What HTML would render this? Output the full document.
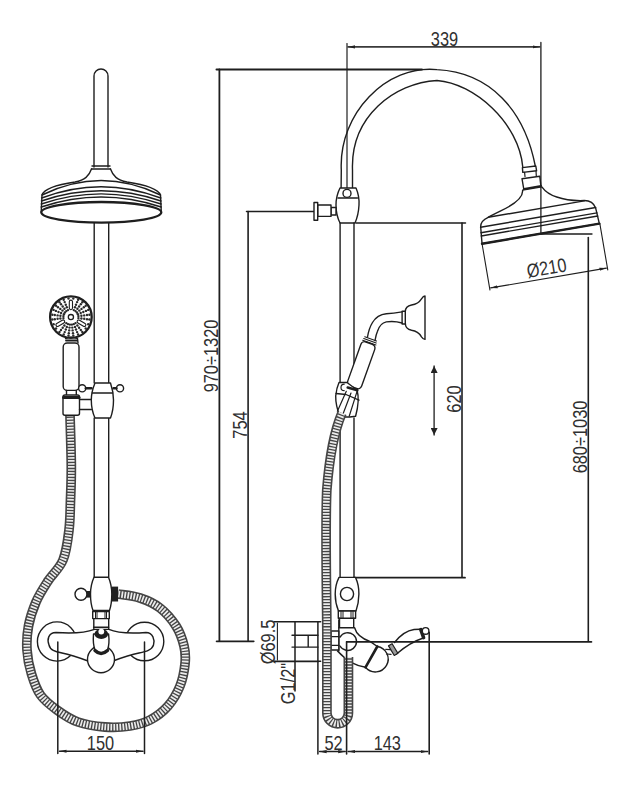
<!DOCTYPE html>
<html><head><meta charset="utf-8">
<style>
html,body{margin:0;padding:0;background:#fff;}
svg{display:block;}
text{font-family:"Liberation Sans",sans-serif;fill:#303030;}
</style></head>
<body>
<svg width="633" height="800" viewBox="0 0 633 800">
<defs>
<marker id="ar" viewBox="0 0 10 10" refX="10" refY="5" markerWidth="7" markerHeight="7" orient="auto-start-reverse" markerUnits="userSpaceOnUse"><path d="M0,2.8 L10,5 L0,7.2 z" fill="#222"/></marker>
<marker id="ar2" viewBox="0 0 10 10" refX="10" refY="5" markerWidth="7" markerHeight="7" orient="auto-start-reverse" markerUnits="userSpaceOnUse"><path d="M0,0 L10,5 L0,10 z" fill="#222"/></marker>
</defs>
<g fill="none" stroke="#1e1e1e" stroke-width="1.4" stroke-linejoin="round" stroke-linecap="round">

<!-- ============ LEFT FIGURE ============ -->
<!-- hose left -->
<path id="hoseL" d="M70,415 C70.2,423.4 71.2,451.4 71.3,465.6 C71.4,479.8 70.9,489.3 70.5,500.0 C70.1,510.7 70.2,520.0 69.0,530.0 C67.8,540.0 66.5,551.5 63.0,560.0 C59.5,568.5 52.5,574.0 48.0,581.0 C43.5,588.0 39.2,594.5 36.0,602.0 C32.8,609.5 30.0,618.0 28.5,626.0 C27.0,634.0 26.5,642.0 27.0,650.0 C27.5,658.0 29.2,666.5 31.5,674.0 C33.8,681.5 36.2,689.0 40.5,695.0 C44.8,701.0 50.8,705.5 57.0,710.0 C63.2,714.5 70.0,719.2 78.0,722.0 C86.0,724.8 96.3,726.3 105.0,727.0 C113.7,727.7 122.5,727.2 130.0,726.0 C137.5,724.8 143.7,723.3 150.0,720.0 C156.3,716.7 163.0,711.7 168.0,706.0 C173.0,700.3 177.2,693.0 180.0,686.0 C182.8,679.0 184.3,670.7 185.0,664.0 C185.7,657.3 185.5,652.3 184.0,646.0 C182.5,639.7 180.0,632.3 176.0,626.0 C172.0,619.7 166.0,612.7 160.0,608.0 C154.0,603.3 147.0,600.3 140.0,598.0 C133.0,595.7 121.7,594.7 118.0,594.0" stroke="#454545" stroke-width="9.8" stroke-linecap="butt"/>
<path d="M70,415 C70.2,423.4 71.2,451.4 71.3,465.6 C71.4,479.8 70.9,489.3 70.5,500.0 C70.1,510.7 70.2,520.0 69.0,530.0 C67.8,540.0 66.5,551.5 63.0,560.0 C59.5,568.5 52.5,574.0 48.0,581.0 C43.5,588.0 39.2,594.5 36.0,602.0 C32.8,609.5 30.0,618.0 28.5,626.0 C27.0,634.0 26.5,642.0 27.0,650.0 C27.5,658.0 29.2,666.5 31.5,674.0 C33.8,681.5 36.2,689.0 40.5,695.0 C44.8,701.0 50.8,705.5 57.0,710.0 C63.2,714.5 70.0,719.2 78.0,722.0 C86.0,724.8 96.3,726.3 105.0,727.0 C113.7,727.7 122.5,727.2 130.0,726.0 C137.5,724.8 143.7,723.3 150.0,720.0 C156.3,716.7 163.0,711.7 168.0,706.0 C173.0,700.3 177.2,693.0 180.0,686.0 C182.8,679.0 184.3,670.7 185.0,664.0 C185.7,657.3 185.5,652.3 184.0,646.0 C182.5,639.7 180.0,632.3 176.0,626.0 C172.0,619.7 166.0,612.7 160.0,608.0 C154.0,603.3 147.0,600.3 140.0,598.0 C133.0,595.7 121.7,594.7 118.0,594.0" stroke="#ececec" stroke-width="6.6" stroke-dasharray="1.7 1.3" stroke-linecap="butt"/>

<!-- top pipe -->
<path d="M94,167 V76 A7,7 0 0 1 108,76 V167"/>
<!-- collar -->
<path d="M92,166 H110 M91.5,169 H110.5"/>
<!-- shower head dome -->
<path d="M91.5,169 C89,176 85,180 75,182 C55,185 44,189 42,195 L41.2,212" fill="#fff"/>
<path d="M110.5,169 C113,176 117,180 127,182 C147,185 158,189 160.5,195 L161.3,212" fill="#fff"/>
<!-- grooves -->
<path d="M42,195 Q101,166 160.5,195"/>
<path d="M41.6,198 Q101,175.4 160.8,198"/>
<path d="M41.4,201 Q101,180.6 161,201"/>
<path d="M41.3,204 Q101,183.8 161.1,204"/>
<path d="M41.2,207 Q101,187 161.2,207"/>
<ellipse cx="101.3" cy="212.3" rx="60" ry="10.3" stroke-width="2.3" fill="#fff"/>
<!-- rail -->
<path d="M94.2,222.6 V383 M108.7,222.6 V383 M94.2,418 V577 M108.7,418 V577"/>

<!-- hand shower head -->
<circle cx="70.9" cy="317.1" r="20.8" stroke-width="2.3" fill="#fff"/>
<g fill="#2a2a2a" stroke="none"><circle cx="73.3" cy="298.6" r="1.2"/><circle cx="73.8" cy="310.1" r="1.2"/><circle cx="75.0" cy="307.3" r="1.2"/><circle cx="76.0" cy="304.7" r="1.2"/><circle cx="77.1" cy="302.1" r="1.2"/><circle cx="78.1" cy="299.8" r="1.2"/><circle cx="75.5" cy="311.1" r="1.2"/><circle cx="77.4" cy="308.7" r="1.2"/><circle cx="79.1" cy="306.5" r="1.2"/><circle cx="80.8" cy="304.2" r="1.2"/><circle cx="82.3" cy="302.3" r="1.2"/><circle cx="76.9" cy="312.5" r="1.2"/><circle cx="79.3" cy="310.6" r="1.2"/><circle cx="81.5" cy="308.9" r="1.2"/><circle cx="83.8" cy="307.2" r="1.2"/><circle cx="85.7" cy="305.7" r="1.2"/><circle cx="77.9" cy="314.2" r="1.2"/><circle cx="80.7" cy="313.0" r="1.2"/><circle cx="83.3" cy="312.0" r="1.2"/><circle cx="85.9" cy="310.9" r="1.2"/><circle cx="88.2" cy="309.9" r="1.2"/><circle cx="78.4" cy="316.1" r="1.2"/><circle cx="81.4" cy="315.7" r="1.2"/><circle cx="84.2" cy="315.4" r="1.2"/><circle cx="87.0" cy="315.0" r="1.2"/><circle cx="89.4" cy="314.7" r="1.2"/><circle cx="78.4" cy="318.1" r="1.2"/><circle cx="81.4" cy="318.5" r="1.2"/><circle cx="84.2" cy="318.8" r="1.2"/><circle cx="87.0" cy="319.2" r="1.2"/><circle cx="89.4" cy="319.5" r="1.2"/><circle cx="88.2" cy="324.3" r="1.2"/><circle cx="85.7" cy="328.5" r="1.2"/><circle cx="75.5" cy="323.1" r="1.2"/><circle cx="77.4" cy="325.5" r="1.2"/><circle cx="79.1" cy="327.7" r="1.2"/><circle cx="80.8" cy="330.0" r="1.2"/><circle cx="82.3" cy="331.9" r="1.2"/><circle cx="73.8" cy="324.1" r="1.2"/><circle cx="75.0" cy="326.9" r="1.2"/><circle cx="76.0" cy="329.5" r="1.2"/><circle cx="77.1" cy="332.1" r="1.2"/><circle cx="78.1" cy="334.4" r="1.2"/><circle cx="71.9" cy="324.6" r="1.2"/><circle cx="72.3" cy="327.6" r="1.2"/><circle cx="72.6" cy="330.4" r="1.2"/><circle cx="73.0" cy="333.2" r="1.2"/><circle cx="73.3" cy="335.6" r="1.2"/><circle cx="69.9" cy="324.6" r="1.2"/><circle cx="69.5" cy="327.6" r="1.2"/><circle cx="69.2" cy="330.4" r="1.2"/><circle cx="68.8" cy="333.2" r="1.2"/><circle cx="68.5" cy="335.6" r="1.2"/><circle cx="68.0" cy="324.1" r="1.2"/><circle cx="66.8" cy="326.9" r="1.2"/><circle cx="65.8" cy="329.5" r="1.2"/><circle cx="64.7" cy="332.1" r="1.2"/><circle cx="63.7" cy="334.4" r="1.2"/><circle cx="66.3" cy="323.1" r="1.2"/><circle cx="64.4" cy="325.5" r="1.2"/><circle cx="62.7" cy="327.7" r="1.2"/><circle cx="61.0" cy="330.0" r="1.2"/><circle cx="59.5" cy="331.9" r="1.2"/><circle cx="56.1" cy="328.5" r="1.2"/><circle cx="53.6" cy="324.3" r="1.2"/><circle cx="63.4" cy="318.1" r="1.2"/><circle cx="60.4" cy="318.5" r="1.2"/><circle cx="57.6" cy="318.8" r="1.2"/><circle cx="54.8" cy="319.2" r="1.2"/><circle cx="52.4" cy="319.5" r="1.2"/><circle cx="63.4" cy="316.1" r="1.2"/><circle cx="60.4" cy="315.7" r="1.2"/><circle cx="57.6" cy="315.4" r="1.2"/><circle cx="54.8" cy="315.0" r="1.2"/><circle cx="52.4" cy="314.7" r="1.2"/><circle cx="63.9" cy="314.2" r="1.2"/><circle cx="61.1" cy="313.0" r="1.2"/><circle cx="58.5" cy="312.0" r="1.2"/><circle cx="55.9" cy="310.9" r="1.2"/><circle cx="53.6" cy="309.9" r="1.2"/><circle cx="64.9" cy="312.5" r="1.2"/><circle cx="62.5" cy="310.6" r="1.2"/><circle cx="60.3" cy="308.9" r="1.2"/><circle cx="58.0" cy="307.2" r="1.2"/><circle cx="56.1" cy="305.7" r="1.2"/><circle cx="66.3" cy="311.1" r="1.2"/><circle cx="64.4" cy="308.7" r="1.2"/><circle cx="62.7" cy="306.5" r="1.2"/><circle cx="61.0" cy="304.2" r="1.2"/><circle cx="59.5" cy="302.3" r="1.2"/><circle cx="68.0" cy="310.1" r="1.2"/><circle cx="66.8" cy="307.3" r="1.2"/><circle cx="65.8" cy="304.7" r="1.2"/><circle cx="64.7" cy="302.1" r="1.2"/><circle cx="63.7" cy="299.8" r="1.2"/><circle cx="68.5" cy="298.6" r="1.2"/></g>
<g fill="#fff" stroke-width="1.1"><rect x="-4.8" y="-1.6" width="9.6" height="3.2" rx="1.6" transform="translate(70.9,304.9) rotate(-90)"/><rect x="-4.8" y="-1.6" width="9.6" height="3.2" rx="1.6" transform="translate(81.5,323.2) rotate(30)"/><rect x="-4.8" y="-1.6" width="9.6" height="3.2" rx="1.6" transform="translate(60.3,323.2) rotate(150)"/></g>
<circle cx="70.9" cy="317.1" r="2.6" stroke-width="1.3"/>
<!-- handle -->
<path d="M65.5,338.5 Q71,336 77.5,338.5 L78,343" stroke-width="1.4"/>
<path d="M66,340.5 H77" stroke-width="1.8"/>
<rect x="63.2" y="343" width="15.8" height="47.4" rx="4" fill="#fff"/>
<path d="M66.5,390.4 V395 M76.3,390.4 V395"/>
<!-- hose holder -->
<rect x="63" y="395" width="16.5" height="20.3" rx="2" fill="#fff"/>
<path d="M63.5,397.5 H79" stroke-width="3"/>
<path d="M79.5,399.5 H91.3 M79.5,409.5 H91.3"/>
<!-- slider -->
<path d="M95,383 H110.5 Q113.5,392 113.5,400 Q113.5,410 110.5,418 H95 Q91.3,410 91.3,400 Q91.3,392 95,383 Z" fill="#fff"/>
<path d="M92.4,393 H112.4"/>
<circle cx="82.2" cy="388.3" r="3.6" fill="#fff"/>
<path d="M85.8,388.3 H91.5" stroke-width="2.4"/>
<circle cx="120" cy="388.3" r="3.6" fill="#fff"/>
<path d="M113.5,388.3 H116.4" stroke-width="2.4"/>

<!-- diverter -->
<path d="M94,577.2 H108.5 Q111.8,585 111.8,594 Q111.8,604 109.5,610.4 H93 Q90.5,604 90.5,594 Q90.5,585 94,577.2 Z" fill="#fff"/>
<rect x="92.7" y="611.5" width="16.6" height="7.1" fill="#fff"/>
<path d="M95.5,611.5 V618.6 M97,611.5 V618.6 M105,611.5 V618.6 M106.5,611.5 V618.6" stroke-width="1"/>
<path d="M93.8,618.6 V628.6 M108.7,618.6 V628.6"/>
<circle cx="81" cy="594.3" r="6" fill="#fff"/>
<rect x="86.6" y="591" width="3.9" height="6.6" fill="#222" stroke="none"/>
<rect x="112" y="586.6" width="6.1" height="14.9" fill="#222" stroke="none"/>

<!-- mixer escutcheons -->
<circle cx="57" cy="641.5" r="19.6" fill="#fff"/>
<circle cx="144.5" cy="641.5" r="19.3" fill="#fff"/>
<!-- mixer body -->
<path d="M94.5,629.4 C85,633 70,633.5 56,632.5 C48,632.5 47,640 49,645 C50,650 55,651.5 62,653 C72,655 80,658 88,661 L113,661 C121,658 129,655 139,653 C146,651.5 152,650 153.5,645 C155,640 153,632.5 146,632.5 C132,633.5 117,633 108.9,629.4 Z" fill="#fff"/>
<circle cx="101" cy="659.3" r="13.5" fill="#fff"/>
<path d="M93.5,634 C93,640 93.5,646 95,650 Q101,656 107.5,650 C109,646 109.3,640 108.6,634 Z" fill="#fff"/>
<path d="M95,650.5 Q101,656.5 107.5,650.5" stroke-width="3.4"/>
<ellipse cx="101.3" cy="634" rx="6.8" ry="5" fill="#1e1e1e" stroke="none"/>
<circle cx="101.3" cy="631.6" r="2.9" fill="#fff" stroke="none"/>
<path d="M93.6,627.3 H108.6"/>
<!-- dims 150 -->
<path d="M57.8,642 V753.5 M144.5,642 V753.5" stroke-width="1.5"/>
<path d="M59.5,751.2 H143" stroke-width="1.5" marker-start="url(#ar)" marker-end="url(#ar)"/>

<!-- ============ RIGHT FIGURE ============ -->
<!-- dimension frame lines -->
<path d="M216.5,69.4 H422" stroke-width="2"/>
<path d="M219.4,69.5 V641.2" stroke-width="1.8"/>
<path d="M216.6,641.3 H253.7" stroke-width="1.8"/>
<path d="M248.1,211.5 V641.2" stroke-width="1.6"/>
<path d="M246.5,211.5 H314" stroke-width="1.5"/>
<!-- 339 -->
<path d="M347,43.5 V188" stroke-width="1.2"/>
<path d="M348,46.9 H539.7" stroke-width="1.6" stroke="#3a3a3a" marker-start="url(#ar)" marker-end="url(#ar)"/>
<!-- gooseneck -->
<path d="M341.1,188.6 L341.3,170 C338.5,113.5 386.5,64.5 437,69.6 C490.2,72.3 524.5,110.1 535.4,166.5"/>
<path d="M352.5,188.6 L352.5,170 C350.5,116.4 394.4,82.9 437,80.5 C474.2,83.2 519,123 522.8,167.2"/>
<!-- collar & neck -->
<path d="M522.4,167.6 L535.8,166 L536.6,170.8 L522.8,172.4 Z" fill="#fff"/>
<path d="M524.6,172.4 L525,176.5 M536,170.8 L536.3,176" stroke-width="1.2"/>
<path d="M522,178.7 L539.8,176.3 L541,187 L524,190.5 Z" fill="#fff"/>
<path d="M524,189 L541,186" stroke-width="2.2"/>
<!-- head (rotated) -->
<g transform="translate(540.7,233.7) rotate(-9.7)">
<path d="M-10.5,-46 C-11,-38 -22,-33 -35,-29.5 C-42,-27.5 -46,-26 -49,-25 Q-57,-23 -58,-17 L-59.5,0 L59.5,0 L58.5,-16 Q57,-24 48.5,-25.4 C40,-26.5 30,-29 22,-33.5 C15,-37 11,-42 9,-46 Z" fill="#fff"/>
<path d="M-49,-25 H48.5"/>
<path d="M-58.2,-16.5 H58.6 M-58.7,-11 H59 M-59,-7.8 H59.2"/>
<path d="M-59.5,0 H59.5" stroke-width="2.4"/>
<path d="M-59.5,0 V47 M60,0 V47" stroke-width="1.1"/>
<path d="M-58.5,45 H59" stroke-width="1.1" marker-start="url(#ar)" marker-end="url(#ar)"/>
<text x="0" y="41.5" text-anchor="middle" font-size="19.5" transform="scale(0.84,1)" stroke="none">Ø210</text>
</g>
<path d="M540.9,42.5 V234 H592" stroke-width="1.3"/>
<path d="M588.3,237.5 V641" stroke-width="1.6"/>

<!-- connector at top of rail -->
<path d="M340,188 H356 Q359.5,196 359,205 Q358.5,215 355,223 H340 Q336,215 336,205 Q336,196 340,188 Z" fill="#fff"/>
<path d="M338,198 H357.5"/>
<circle cx="347" cy="193.4" r="4" fill="#fff"/>
<rect x="331" y="207.5" width="5" height="7.5" fill="#fff"/>
<rect x="317.7" y="205" width="13.3" height="11.4" fill="#fff"/>
<rect x="314" y="202.5" width="3.7" height="17.7" fill="#fff"/>
<path d="M356,223 H465.5" stroke-width="1.5"/>
<path d="M462,223 V577" stroke-width="1.6"/>
<path d="M353.7,577.7 H465" stroke-width="1.8"/>
<!-- rail right -->
<path d="M340.1,223 V383 M354,223 V383 M340.1,418 V577.4 M354,418 V577.4"/>

<!-- wall hand-shower bracket -->
<path d="M425,296 V339.4 Q423.5,339.6 421.5,336.8 C419.5,333.5 416.5,331 411.6,330.3 C407,329.5 405.3,327 405.3,323 V311.5 C405.3,308 407,306 411.6,305 C416.5,304.2 419.5,302 421.5,298.8 Q423.3,296 425,296 Z" fill="#fff"/>
<rect x="402.1" y="311.3" width="3.2" height="12.7" fill="#fff"/>
<path d="M402.1,311.9 C396,313 391,313.6 386.3,313.8 C381,314.3 375.5,317.5 372.5,322.5 C370,326.5 368.5,331 367.5,337 M402.1,323 C397,321.5 391,321.2 386.3,321.9 C382,322.8 379,326.5 377.5,331.3 C376.3,334 375.6,337 375,340.5"/>
<!-- hand shower handle rotated -->
<g transform="translate(361.25,365.25) rotate(19.6)">
<rect x="-7.4" y="-23.5" width="14.8" height="47" rx="4" fill="#fff"/>
<path d="M-7,-24 H7 M-6.6,-26 H6.6 M-6.2,-28 H6.2" stroke-width="1.1"/>
</g>
<!-- slider bracket -->
<path d="M339,382.5 H347 L357,390 Q360,400 355.6,416.2 L349.9,417 H340 Q335.5,405 335.7,396 Q336.5,388 339,382.5 Z" fill="#fff"/>
<path d="M336,393.5 L346,394.5 L359,400.2" stroke-width="1.3"/>
<path d="M346.3,391.3 L337.4,411.2 M357.3,390.6 L349.2,416.2 M351,393 L343,414" stroke-width="1.2"/>
<path d="M344.2,384.2 A3.2,3.2 0 0 0 344.2,390.6" stroke-width="1.2"/>
<path d="M347.7,387.6 L357.3,390.3" stroke-width="2.6"/>
<!-- diverter right -->
<path d="M339,577.4 H355.5 Q359,585 358.9,594 Q358.8,603 356,611 H338.5 Q335.2,603 335.2,594 Q335.2,585 339,577.4 Z" fill="#fff"/>
<circle cx="347" cy="594" r="6.6" fill="#fff"/>
<rect x="338.3" y="611" width="17.3" height="7.2" fill="#fff"/>
<path d="M341,611 V618.2 M343,611 V618.2 M351,611 V618.2 M353,611 V618.2" stroke-width="1"/>
<path d="M339.5,618.2 V628 M353.7,618.2 V628"/>

<!-- wall flange side -->
<path d="M274,621.8 H320.6 M274,661.3 H320.6" stroke-width="1.6"/>
<path d="M277.4,623 V660" stroke-width="1.1"/>
<path d="M295,621.8 V691 M317.9,621.8 V754" stroke-width="1.5"/>
<path d="M292,635.3 H318 M292,647.1 H318 M308.2,635.3 V647.1"/>
<path d="M275,661.6 H318.5"/>
<!-- mixer side -->
<path d="M338.8,627.7 H354.6 C356,633 360,638 370.4,641.6 L377.3,646.5 A12.8,12.8 0 1 1 365.5,667.3 L352.7,663.1 L338.8,650 Z" fill="#fff" stroke="none"/>
<path d="M338.8,627.7 H354.6 C356,633 360,638 370.4,641.6 L377.3,646.5"/>
<path d="M377.3,646.5 A12.8,12.8 0 1 1 365.5,667.3"/>
<path d="M337.5,651 C342,656 347,660 352.7,663.1 C357,665.5 361,666.5 365.5,667.3"/>
<path d="M338.8,620 V651"/>
<path d="M340,637.2 A8.85,8.85 0 1 1 340,646"/>
<path d="M377.3,646.5 L365.5,667.3" stroke-width="2.6"/>
<rect x="331" y="631" width="7.8" height="19" fill="#fff"/>
<path d="M331,636.6 H338.8 M331,645.4 H338.8"/>
<!-- handle side -->
<path d="M385.7,649.4 L390.4,649.6 M386.5,654 L391,654.4" stroke-width="1.2"/>
<path d="M392.5,644 C399,636 407,630.5 414,629.5 L420,629.2 L423.3,638 C414,641 404,647.5 396,654.5 Z" fill="#fff" stroke="none"/>
<path d="M394.5,642.5 C400,635.5 407,630.5 414,629.5 L420,629.2 M423.3,638 C414,641 404,647.5 396.5,654"/>
<rect x="-5.6" y="-2.1" width="11.2" height="4.2" fill="#9a9a9a" stroke-width="1.2" transform="translate(393.2,649.6) rotate(59)"/>
<path d="M420.8,629.6 L423.6,637.6" stroke-width="3.5"/>
<circle cx="425.6" cy="630.9" r="3.3" fill="#fff"/>
<!-- hose right -->
<path d="M342,413 C335.5,428 329.5,455 326.8,490 C325,530 326.9,600 326.9,640 L326.9,713 A10.75,10.75 0 0 0 348.4,713 L348.4,657" stroke="#454545" stroke-width="9.8" stroke-linecap="butt"/>
<path d="M342,413 C335.5,428 329.5,455 326.8,490 C325,530 326.9,600 326.9,640 L326.9,713 A10.75,10.75 0 0 0 348.4,713 L348.4,657" stroke="#ececec" stroke-width="6.6" stroke-dasharray="1.7 1.3" stroke-linecap="butt"/>

<path d="M346.6,641.9 H591.5" stroke-width="1.6"/>
<path d="M346.6,641.9 V754 M429.2,632.3 V754" stroke-width="1.6"/>
<path d="M319.6,751.6 H345.2" stroke-width="1.5" marker-start="url(#ar)" marker-end="url(#ar)"/>
<path d="M348.2,751.6 H427.6" stroke-width="1.5" marker-start="url(#ar)" marker-end="url(#ar)"/>

<!-- 620 arrow -->
<path d="M434.1,366 V435" stroke-width="1.3" marker-start="url(#ar2)" marker-end="url(#ar2)"/>
</g>

<!-- ============ TEXT ============ -->
<g font-size="20">
<text transform="translate(100.5,749.5) scale(0.82,1)" text-anchor="middle">150</text>
<text transform="translate(444.5,45.5) scale(0.82,1)" text-anchor="middle">339</text>
<text transform="translate(218,356) rotate(-90) scale(0.82,1)" text-anchor="middle">970÷1320</text>
<text transform="translate(247.4,425) rotate(-90) scale(0.82,1)" text-anchor="middle">754</text>
<text transform="translate(461,399) rotate(-90) scale(0.82,1)" text-anchor="middle">620</text>
<text transform="translate(587,437) rotate(-90) scale(0.82,1)" text-anchor="middle">680÷1030</text>
<text transform="translate(274.6,642) rotate(-90) scale(0.82,1)" text-anchor="middle">Ø69.5</text>
<text transform="translate(294.5,683.5) rotate(-90) scale(0.82,1)" text-anchor="middle">G1/2"</text>
<text transform="translate(333.5,749.6) scale(0.82,1)" text-anchor="middle">52</text>
<text transform="translate(387.3,749.6) scale(0.82,1)" text-anchor="middle">143</text>
</g>
</svg>
</body></html>
